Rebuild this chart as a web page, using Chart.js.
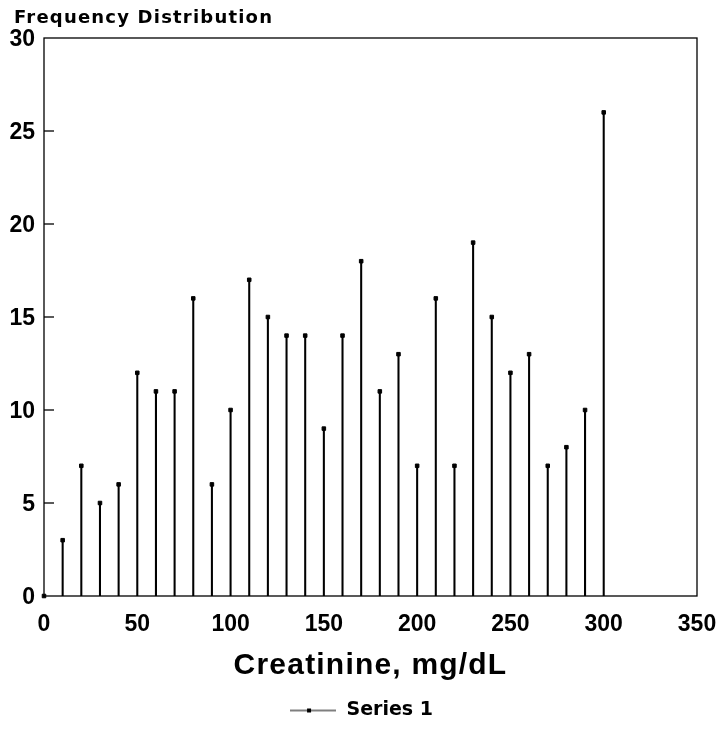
<!DOCTYPE html>
<html>
<head>
<meta charset="utf-8">
<script src="https://cdn.jsdelivr.net/npm/chart.js@4.4.0/dist/chart.umd.min.js"></script>
<style>
  html, body { margin: 0; padding: 0; background: #fff; }
  #wrap { width: 722px; height: 749px; position: relative; }
</style>
</head>
<body>
<div id="wrap"><canvas id="c"></canvas></div>
<script>
// creatinine bins (mg/dL) and counts
const creatinine = [0, 10, 20, 30, 40, 50, 60, 70, 80, 90, 100, 110, 120, 130, 140, 150,
  160, 170, 180, 190, 200, 210, 220, 230, 240, 250, 260, 270, 280, 290, 300];
const counts = [0, 3, 7, 5, 6, 12, 11, 11, 16, 6, 10, 17, 15, 14, 14, 9,
  14, 18, 11, 13, 7, 16, 7, 19, 15, 12, 13, 7, 8, 10, 26];
const xTicks = [0, 50, 100, 150, 200, 250, 300, 350];
const yTicks = [0, 5, 10, 15, 20, 25, 30];

const FONT = "'Liberation Sans', Arial, sans-serif";
const DJ = "'DejaVu Sans', sans-serif";
const points = creatinine.map((x, i) => ({ x: x, y: counts[i] }));

Chart.defaults.font.family = FONT;
Chart.defaults.font.weight = 'bold';
Chart.defaults.color = '#000';

// legend marker: line with a dot in the middle
const marker = document.createElement('canvas');
marker.width = 46; marker.height = 8;
(function () {
  const g = marker.getContext('2d');
  g.strokeStyle = '#000'; g.lineWidth = 1.2;
  g.beginPath(); g.moveTo(0, 4); g.lineTo(46, 4); g.stroke();
  g.fillStyle = '#000'; g.fillRect(17, 2, 4, 4);
})();

const frame = {
  id: 'frame',
  afterDraw(chart) {
    const { ctx, chartArea: a, scales } = chart;
    ctx.save();
    ctx.strokeStyle = '#000';
    ctx.lineWidth = 1.3;
    ctx.strokeRect(a.left, a.top, a.right - a.left, a.bottom - a.top);
    // inward ticks on the y axis
    yTicks.forEach(v => {
      if (v === 0 || v === 30) return;
      const y = scales.y.getPixelForValue(v);
      ctx.beginPath(); ctx.moveTo(a.left, y); ctx.lineTo(a.left + 10, y); ctx.stroke();
    });
    ctx.fillStyle = '#000';
    ctx.textBaseline = 'alphabetic';
    ctx.letterSpacing = '1.2px';
    ctx.font = 'bold 18px ' + DJ;
    ctx.textAlign = 'left';
    ctx.fillText('Frequency Distribution', 14, 23);
    ctx.font = 'bold 30px ' + FONT;
    ctx.textAlign = 'center';
    ctx.fillText('Creatinine, mg/dL', (a.left + a.right) / 2, a.bottom + 78);
    ctx.letterSpacing = '0px';
    ctx.restore();
  }
};

new Chart(document.getElementById('c'), {
  data: {
    datasets: [
      {
        type: 'bar',
        label: 'stems',
        data: points,
        backgroundColor: '#000',
        barThickness: 1.4,
        borderWidth: 0
      },
      {
        type: 'scatter',
        label: 'Series 1',
        data: points,
        pointStyle: 'rect',
        pointRadius: 2.5,
        backgroundColor: '#000',
        borderColor: '#000',
        clip: false
      }
    ]
  },
  plugins: [frame],
  options: {
    responsive: true,
    maintainAspectRatio: false,
    animation: false,
    layout: { padding: { top: 38, right: 0, left: 0, bottom: 19 } },
    plugins: {
      tooltip: { enabled: false },
      title: { display: false },
      legend: {
        position: 'bottom',
        labels: {
          color: '#000',
          font: { family: DJ, size: 19, weight: 'bold' },
          usePointStyle: true,
          pointStyleWidth: 48,
          generateLabels: () => [{
            text: 'Series 1',
            pointStyle: marker,
            fontColor: '#000',
            datasetIndex: 1,
            hidden: false
          }]
        }
      }
    },
    scales: {
      x: {
        type: 'linear',
        min: 0, max: 350,
        afterBuildTicks: s => { s.ticks = xTicks.map(v => ({ value: v })); },
        afterFit: s => { s.height = 95; s.paddingRight = 25; s.paddingLeft = 0; },
        grid: { display: false, drawTicks: false },
        border: { display: false },
        ticks: { color: '#000', padding: 15, font: { family: FONT, size: 23, weight: 'bold' } },
        offset: false
      },
      y: {
        min: 0, max: 30,
        afterBuildTicks: s => { s.ticks = yTicks.map(v => ({ value: v })); },
        afterFit: s => { s.width = 44; },
        grid: { display: false, drawTicks: false },
        border: { display: false },
        ticks: { color: '#000', padding: 9, labelOffset: 2, font: { family: FONT, size: 23, weight: 'bold' } }
      }
    }
  }
});
</script>
</body>
</html>
